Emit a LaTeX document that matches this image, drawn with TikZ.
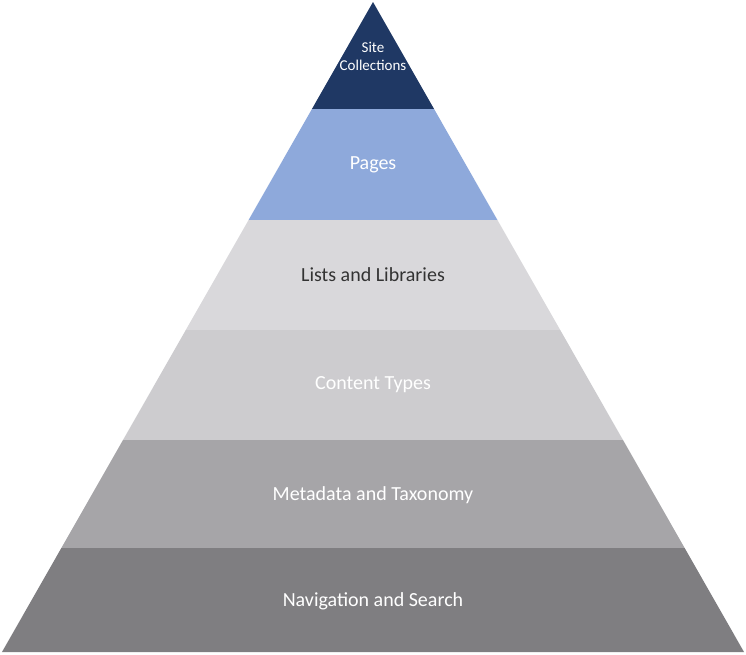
\documentclass[tikz,border=0pt]{standalone}
\usepackage{fontspec}
\setmainfont{Carlito}
\definecolor{topnavy}{HTML}{1F3864}
\definecolor{pageblue}{HTML}{8EA9DB}
\definecolor{listgray}{HTML}{D9D8DB}
\definecolor{typegray}{HTML}{CDCCCF}
\definecolor{metagray}{HTML}{A6A5A8}
\definecolor{navgray}{HTML}{7F7E81}
\begin{document}
\begin{tikzpicture}[x=1pt, y=-1pt]
  \tikzset{layer label/.style={text=white,font=\fontsize{20}{23}\selectfont,align=center}}

  \useasboundingbox (0,0) rectangle (746,654);

  % layers: top y, bottom y, colour
  \foreach \ya/\yb/\col in {2/109/topnavy, 109/220/pageblue, 220/330/listgray,
                            330/440/typegray, 440/548/metagray, 548/652/navgray}{
    \pgfmathsetmacro{\wa}{(\ya-2)*0.5708}
    \pgfmathsetmacro{\wb}{(\yb-2)*0.5708}
    \fill[\col] (373-\wa,\ya) -- (373+\wa,\ya) -- (373+\wb,\yb) -- (373-\wb,\yb) -- cycle;
  }

  \node[layer label,font=\fontsize{15}{18}\selectfont] (site) at (373,56) {Site\\Collections};
  \node[layer label] (pages) at (373,165) {Pages};
  \node[layer label,text=black!80] (lists) at (373,275) {Lists and Libraries};
  \node[layer label] (types) at (373,385) {Content Types};
  \node[layer label] (meta) at (373,495) {Metadata and Taxonomy};
  \node[layer label] (nav) at (373,601) {Navigation and Search};
\end{tikzpicture}
\end{document}
